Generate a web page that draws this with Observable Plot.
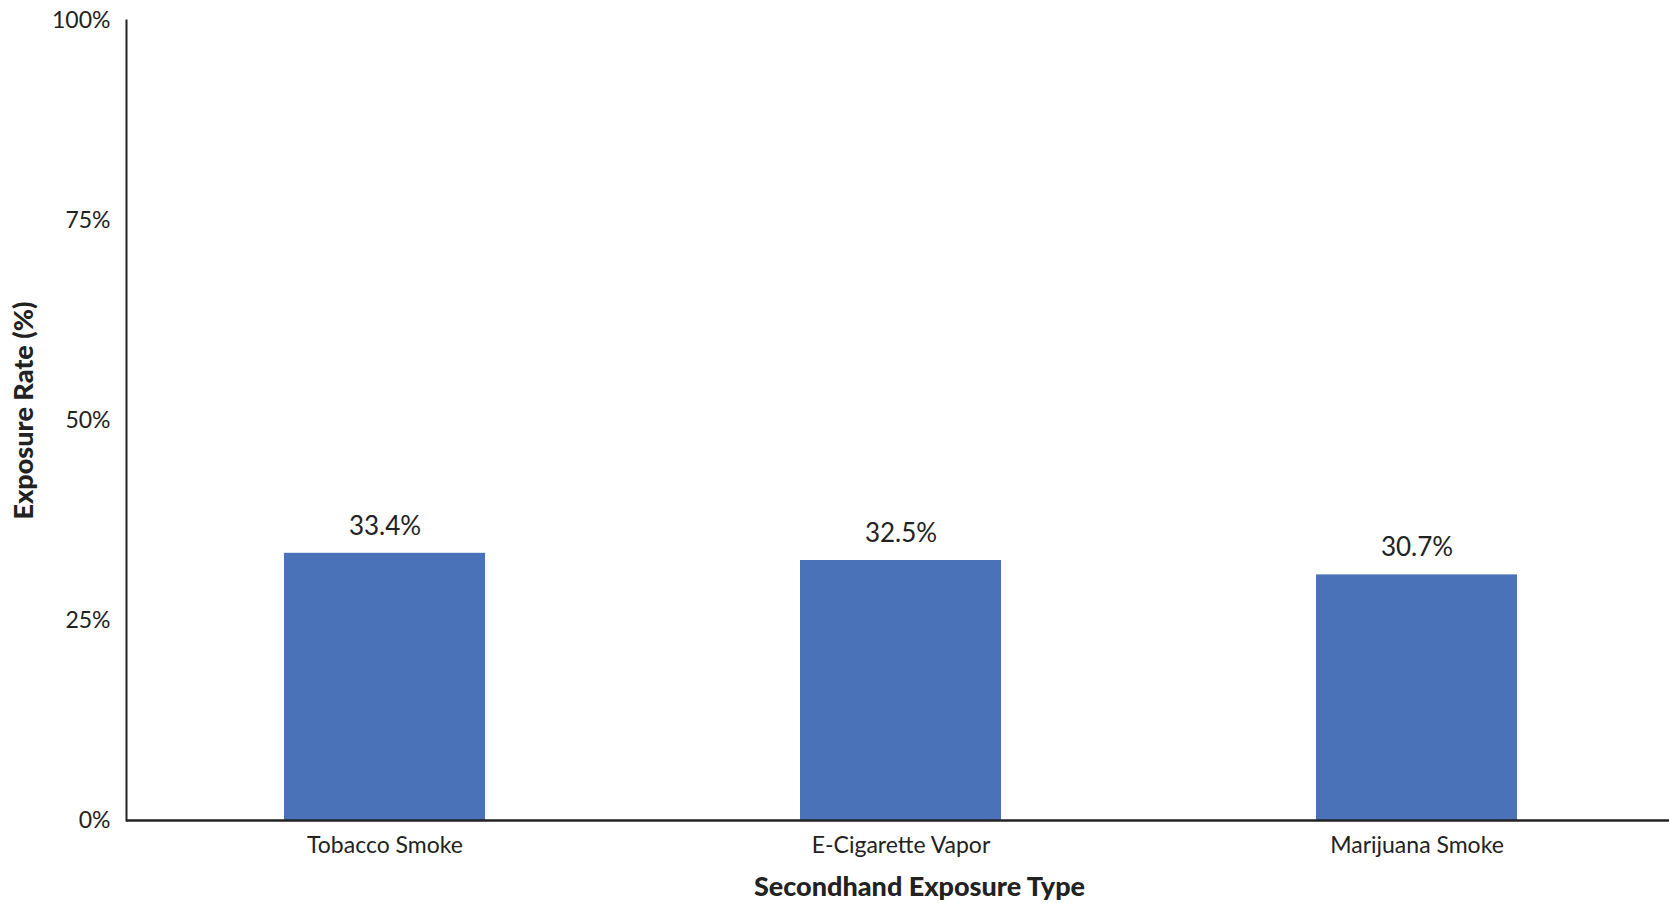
<!DOCTYPE html>
<html>
<head>
<meta charset="utf-8">
<script src="https://cdn.jsdelivr.net/npm/d3@7"></script>
<script src="https://cdn.jsdelivr.net/npm/@observablehq/plot@0.6"></script>
<style>
  html, body { margin: 0; padding: 0; background: #fff; overflow: hidden; }
  #chart svg { display: block; }
</style>
</head>
<body>
<div id="chart"></div>
<script>
const categories = ["Tobacco Smoke", "E-Cigarette Vapor", "Marijuana Smoke"];
const rates = [33.4, 32.5, 30.7];
const yTicks = [0, 25, 50, 75, 100];

const data = categories.map((c, i) => ({category: c, rate: rates[i]}));
const barColor = "#4972B8";
const textColor = "#222222";

const chart = Plot.plot({
  width: 1669,
  height: 903,
  marginLeft: 126,
  marginRight: -7,
  marginTop: 20,
  marginBottom: 83,
  style: {fontFamily: "Lato, 'Open Sans', sans-serif", color: textColor, background: "#fff", overflow: "hidden"},
  x: {domain: categories, paddingInner: 0.61, paddingOuter: 0.305},
  y: {domain: [0, 100]},
  marks: [
    Plot.barY(data, {x: "category", y: "rate", fill: barColor}),
    Plot.text(data, {
      x: "category", y: "rate", text: d => d.rate.toFixed(1) + "%",
      dy: -27, fontSize: 26, fill: textColor, lineAnchor: "middle"
    }),
    Plot.axisY({
      ticks: yTicks, tickFormat: d => d + "%", tickSize: 0, tickPadding: 16,
      fontSize: 23, label: "Exposure Rate (%)", labelAnchor: "center",
      labelOffset: 113, labelArrow: "none"
    }),
    Plot.axisX({
      tickSize: 0, tickPadding: 16, fontSize: 23,
      label: "Secondhand Exposure Type", labelAnchor: "center",
      labelOffset: 75, labelArrow: "none"
    }),
    Plot.frame({anchor: "left", stroke: textColor, strokeWidth: 2}),
    Plot.ruleY([0], {stroke: textColor, strokeWidth: 2.5})
  ]
});

const ylab = d3.select(chart).selectAll("[aria-label='y-axis label']");
ylab.style("font-size", "27px").style("font-weight", "900");
ylab.selectAll("text").style("font-size", "27px").style("font-weight", "900").attr("dx", 10);
const xlab = d3.select(chart).selectAll("[aria-label='x-axis label']");
xlab.style("font-size", "27px").style("font-weight", "900");
xlab.selectAll("text").style("font-size", "27px").style("font-weight", "900").attr("dx", 18);

document.getElementById("chart").appendChild(chart);
</script>
</body>
</html>
